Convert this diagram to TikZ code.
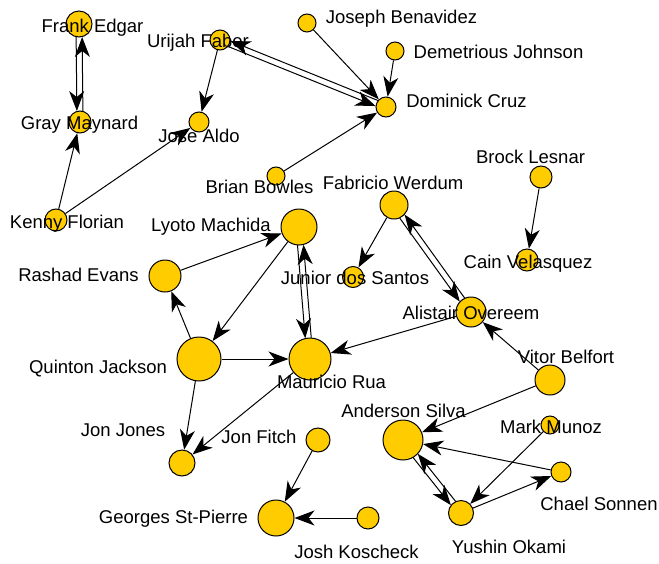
\documentclass[tikz,border=0pt]{standalone}
\usepackage{fontspec}
\setmainfont{Liberation Sans}
\usetikzlibrary{arrows.meta,calc}
\definecolor{gold}{RGB}{255,204,0}
\newcommand{\dedge}[4]{\draw[arr,shorten <=#3pt,shorten >=#4pt] ($(#1.center)!3pt!-90:(#2.center)$) -- ($(#2.center)!3pt!90:(#1.center)$);}
\begin{document}
\begin{tikzpicture}[x=1pt,y=-1pt,
  vtx/.style={circle,draw=black,line width=1pt,fill=gold,inner sep=0pt,minimum size=#1},
  lbl/.style={anchor=base,inner sep=0pt,font=\fontsize{18.5}{22}\selectfont},
  arr/.style={-{Stealth[length=20pt,width=15pt,inset=6pt]},line width=1pt}]
\useasboundingbox (0,0) rectangle (659,563);
% vertices
\node[vtx=26pt] (FE) at (79,24) {};
\node[vtx=22pt] (GM) at (80,122) {};
\node[vtx=22pt] (KF) at (56,220) {};
\node[vtx=20pt] (UF) at (220,40) {};
\node[vtx=20pt] (JA) at (199,122) {};
\node[vtx=18pt] (JB) at (307,23) {};
\node[vtx=18pt] (DJ) at (395,51) {};
\node[vtx=20pt] (DC) at (386,107) {};
\node[vtx=18pt] (BB) at (276,176) {};
\node[vtx=22pt] (BL) at (541,177) {};
\node[vtx=28pt] (FW) at (394,205) {};
\node[vtx=22pt] (CV) at (527,260) {};
\node[vtx=21pt] (JS) at (353,277) {};
\node[vtx=36pt] (LM) at (299,227) {};
\node[vtx=32pt] (RE) at (165,276) {};
\node[vtx=44pt] (QJ) at (199,359) {};
\node[vtx=42pt] (MR) at (310,359) {};
\node[vtx=30pt] (AO) at (471,312) {};
\node[vtx=30pt] (VB) at (550,380) {};
\node[vtx=18pt] (MM) at (550,425) {};
\node[vtx=20pt] (CS) at (561,472) {};
\node[vtx=40pt] (AS) at (403,440) {};
\node[vtx=25pt] (YO) at (461,513) {};
\node[vtx=26pt] (JJ) at (182,463) {};
\node[vtx=24pt] (JF) at (318,440) {};
\node[vtx=36pt] (GSP) at (276,518) {};
\node[vtx=22pt] (JK) at (368,518) {};
% single edges
\draw[arr] (KF) -- (GM);
\draw[arr] (KF) -- (JA);
\draw[arr] (UF) -- (JA);
\draw[arr] (JB) -- (DC);
\draw[arr] (DJ) -- (DC);
\draw[arr] (BB) -- (DC);
\draw[arr] (BL) -- (CV);
\draw[arr] (FW) -- (JS);
\draw[arr] (AO) -- (MR);
\draw[arr] (VB) -- (AO);
\draw[arr] (VB) -- (AS);
\draw[arr] (RE) -- (LM);
\draw[arr] (LM) -- (QJ);
\draw[arr] (QJ) -- (RE);
\draw[arr] (QJ) -- (MR);
\draw[arr] (QJ) -- (JJ);
\draw[arr] (MR) -- (JJ);
\draw[arr] (JF) -- (GSP);
\draw[arr] (JK) -- (GSP);
\draw[arr] (MM) -- (YO);
\draw[arr] (CS) -- (AS);
\draw[arr] (YO) -- (CS);
% double edges
\dedge{FE}{GM}{13}{11}
\dedge{GM}{FE}{11}{13}
\dedge{UF}{DC}{10}{10}
\dedge{DC}{UF}{10}{10}
\dedge{FW}{AO}{14}{15}
\dedge{AO}{FW}{15}{14}
\dedge{LM}{MR}{18}{21}
\dedge{MR}{LM}{21}{18}
\dedge{AS}{YO}{20}{12.5}
\dedge{YO}{AS}{12.5}{20}
% labels
\node[lbl] (lFE) at (92.5,32) {Frank Edgar};
\node[lbl] (lUF) at (198,47) {Urijah Faber};
\node[lbl] (lGM) at (79.5,129) {Gray Maynard};
\node[lbl] (lJA) at (199,142) {Jose Aldo};
\node[lbl] (lBB) at (259.5,193) {Brian Bowles};
\node[lbl] (lKF) at (67,228) {Kenny Florian};
\node[lbl] (lLM) at (211,231) {Lyoto Machida};
\node[lbl] (lJB) at (401.5,23) {Joseph Benavidez};
\node[lbl] (lDJ) at (498.5,58) {Demetrious Johnson};
\node[lbl] (lDC) at (466.5,107) {Dominick Cruz};
\node[lbl] (lBL) at (530.5,163) {Brock Lesnar};
\node[lbl] (lFW) at (393,189) {Fabricio Werdum};
\node[lbl] (lCV) at (528,268) {Cain Velasquez};
\node[lbl] (lJS) at (355,284) {Junior dos Santos};
\node[lbl] (lRE) at (78.5,281) {Rashad Evans};
\node[lbl] (lQJ) at (98,373) {Quinton Jackson};
\node[lbl] (lAO) at (471,319) {Alistair Overeem};
\node[lbl] (lMR) at (331.5,388) {Mauricio Rua};
\node[lbl] (lVB) at (566,363) {Vitor Belfort};
\node[lbl] (lAS) at (403.5,417) {Anderson Silva};
\node[lbl] (lMM) at (551,433) {Mark Munoz};
\node[lbl] (lJJ) at (123,436) {Jon Jones};
\node[lbl] (lJF) at (259,443) {Jon Fitch};
\node[lbl] (lCS) at (599,510) {Chael Sonnen};
\node[lbl] (lGSP) at (173.5,523) {Georges St-Pierre};
\node[lbl] (lYO) at (509,553) {Yushin Okami};
\node[lbl] (lJK) at (356.5,558) {Josh Koscheck};
\end{tikzpicture}
\end{document}
